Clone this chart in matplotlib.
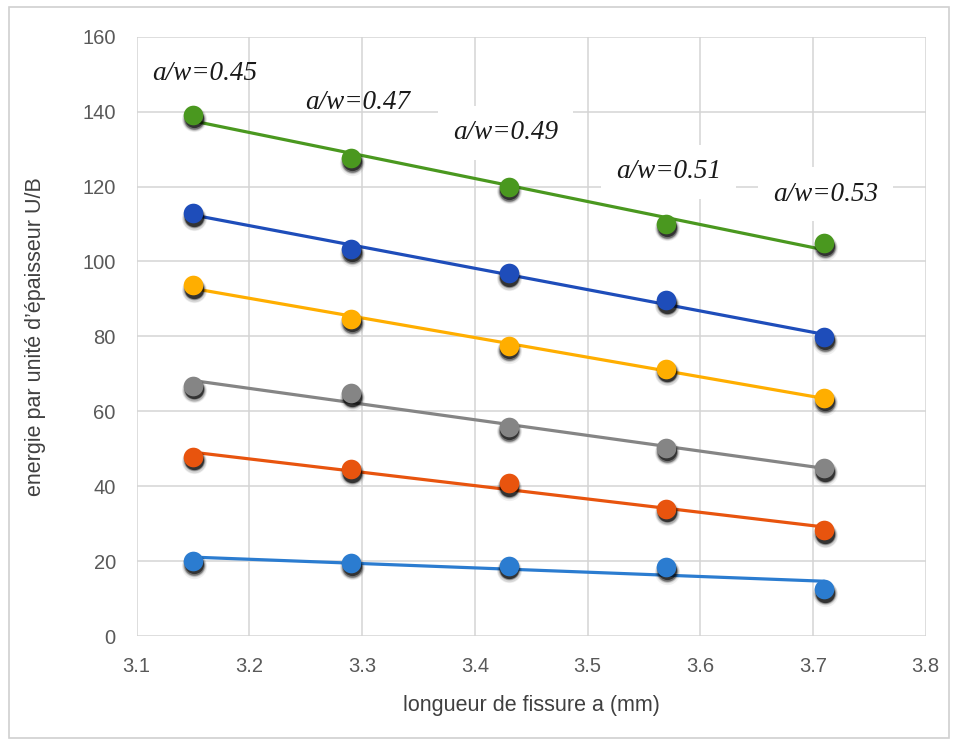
import matplotlib
matplotlib.use("Agg")
import matplotlib.pyplot as plt
import matplotlib.transforms as mtransforms
from matplotlib.patches import Rectangle
import numpy as np

# crack length (mm)
crack_length = [3.15, 3.29, 3.43, 3.57, 3.71]

# energy per unit thickness U/B, one series per loading level
series_green = [139.1, 127.6, 119.9, 110.0, 104.9]
series_darkblue = [112.8, 103.3, 96.8, 89.6, 79.8]
series_yellow = [93.6, 84.6, 77.4, 71.4, 63.5]
series_gray = [66.8, 64.8, 55.8, 50.2, 44.8]
series_orange = [47.9, 44.5, 40.8, 34.0, 28.2]
series_lightblue = [20.0, 19.5, 18.8, 18.4, 12.5]

ratio_labels = ["a/w=0.45", "a/w=0.47", "a/w=0.49", "a/w=0.51", "a/w=0.53"]
ratio_label_x = [3.1136, 3.2493, 3.3806, 3.5252, 3.6645]
ratio_label_y = [150.3, 142.3, 134.3, 123.9, 118.0]
ratio_label_boxed = [False, False, True, True, True]

x_ticks = [3.1, 3.2, 3.3, 3.4, 3.5, 3.6, 3.7, 3.8]
y_ticks = [0, 20, 40, 60, 80, 100, 120, 140, 160]

series = [
    (series_lightblue, "#2B7CD0"),
    (series_orange, "#E8540E"),
    (series_gray, "#858585"),
    (series_yellow, "#FFAE00"),
    (series_darkblue, "#1E4DBA"),
    (series_green, "#4A981F"),
]

sans = ["Liberation Sans Narrow", "Liberation Sans", "DejaVu Sans"]

fig = plt.figure(figsize=(9.58, 7.44), dpi=100)
fig.patches.append(Rectangle((0.009, 0.008), 0.982, 0.983, transform=fig.transFigure,
                             fill=False, edgecolor="#D0D0D0", linewidth=1.2))
ax = fig.add_axes([136.7 / 958, 1 - 636 / 744, (925.7 - 136.7) / 958, (636 - 36.7) / 744])

ax.set_xlim(3.1, 3.8)
ax.set_ylim(0, 160)
ax.set_xticks(x_ticks)
ax.set_yticks(y_ticks)
ax.set_xticklabels([f"{v:.1f}" for v in x_ticks])
ax.grid(True, color="#D4D4D4", linewidth=1.1)
ax.set_axisbelow(True)
for s in ax.spines.values():
    s.set_visible(False)
ax.tick_params(length=0, labelsize=14.5, colors="#595959", pad=15)
for lbl in ax.get_xticklabels() + ax.get_yticklabels():
    lbl.set_fontfamily(sans)

x = np.array(crack_length)
for vals, color in series:
    y = np.array(vals)
    # linear trend line through each series
    k, b = np.polyfit(x, y, 1)
    xs = np.array([x.min(), x.max()])
    ax.plot(xs, k * xs + b, color=color, linewidth=2.3, zorder=3, solid_capstyle="round")
    # soft drop shadow under the markers
    for dy, size, alpha in [(-3.2, 330, 0.06), (-3.0, 290, 0.10), (-2.8, 250, 0.18),
                            (-2.6, 215, 0.35), (-2.4, 190, 0.55)]:
        tr = mtransforms.offset_copy(ax.transData, fig=fig, x=0.5, y=dy, units="points")
        ax.scatter(x, y, s=size, color="black", alpha=alpha, linewidths=0,
                   transform=tr, zorder=4)
    ax.scatter(x, y, s=200, color=color, linewidths=0, zorder=5)

# ratio annotations sit above the grid but beneath the trend lines
for txt, tx, ty, boxed in zip(ratio_labels, ratio_label_x, ratio_label_y, ratio_label_boxed):
    kw = {}
    if boxed:
        kw["bbox"] = dict(boxstyle="square,pad=0.55", facecolor="white", edgecolor="none")
    ax.text(tx, ty, txt, fontsize=19.5, fontstyle="italic",
            family=["Liberation Serif", "DejaVu Serif"], color="#1A1A1A",
            ha="left", va="center", zorder=2, **kw)

ax.set_ylabel("energie par unité d\u2019épaisseur U/B", fontsize=15.5, color="#404040",
              family=sans, labelpad=26)
ax.set_xlabel("longueur de fissure a (mm)", fontsize=15.5, color="#404040",
              family=sans, labelpad=14)

fig.savefig("out.png", dpi=100)
